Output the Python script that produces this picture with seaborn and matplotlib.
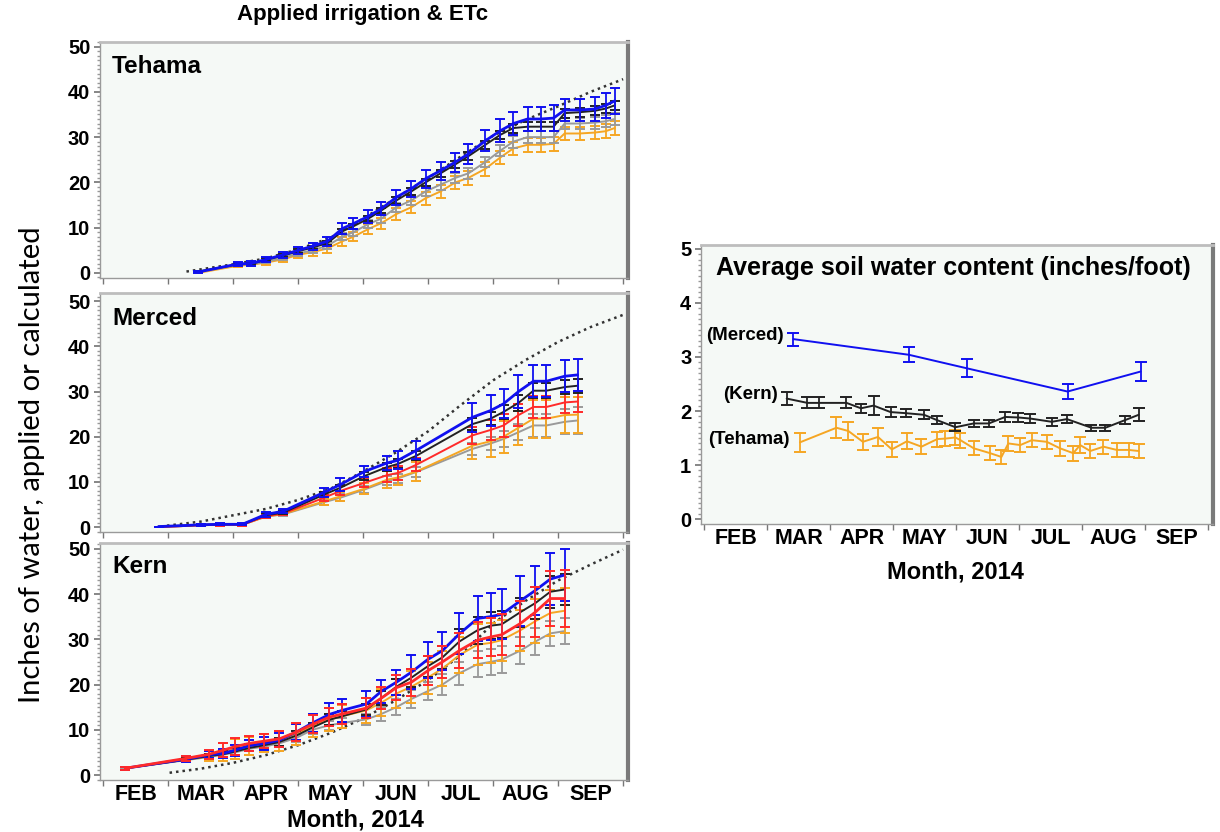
import numpy as np
import pandas as pd
import seaborn as sns
import matplotlib.pyplot as plt
from matplotlib.ticker import MultipleLocator, FixedLocator, NullFormatter

# x values are months counted from 1 Feb 2014 (0 = 1 Feb, 1 = 1 Mar, ...)
month_names = ['FEB', 'MAR', 'APR', 'MAY', 'JUN', 'JUL', 'AUG', 'SEP']

# ---- Tehama: cumulative applied irrigation (inches)
teh_x = [1.46, 2.08, 2.28, 2.51, 2.77, 3.00, 3.22, 3.45, 3.68, 3.85, 4.08, 4.28, 4.51, 4.74, 4.96,
         5.19, 5.42, 5.62, 5.88, 6.11, 6.31, 6.53, 6.73, 6.93, 7.10, 7.33, 7.56, 7.73, 7.87]
teh_blue = [0.2, 2.0, 2.1, 3.0, 4.0, 5.0, 5.9, 7.0, 9.8, 10.9, 12.5, 14.2, 16.7, 18.6, 20.8,
            22.6, 24.5, 26.3, 29.2, 31.4, 33.0, 34.0, 34.0, 34.2, 36.0, 36.0, 36.2, 37.0, 38.0]
teh_black = [0.3, 1.9, 2.0, 2.9, 3.8, 4.8, 5.6, 6.6, 9.2, 10.3, 12.0, 13.8, 16.0, 18.0, 20.0,
             22.0, 24.0, 25.8, 28.3, 30.5, 32.0, 32.3, 32.3, 32.3, 35.3, 35.5, 35.8, 36.3, 37.0]
teh_gray = [0.2, 1.8, 1.9, 2.5, 3.3, 4.3, 5.0, 6.0, 8.0, 9.0, 10.8, 12.0, 14.5, 16.0, 18.0,
            19.5, 21.0, 22.0, 24.5, 27.0, 29.0, 30.0, 30.0, 30.0, 33.0, 33.0, 33.2, 33.5, 34.0]
teh_orange = [0.0, 1.6, 1.8, 2.3, 3.0, 4.0, 4.6, 5.4, 7.0, 8.0, 9.7, 11.0, 13.0, 14.5, 16.5,
              18.0, 20.0, 21.0, 23.0, 25.5, 27.5, 28.3, 28.3, 28.5, 30.8, 30.8, 31.0, 31.3, 32.0]
teh_blue_err = [0.2, 0.5, 0.5, 0.6, 0.7, 0.8, 0.8, 1.0, 1.2, 1.3, 1.4, 1.5, 1.6, 1.8, 2.0,
                2.0, 2.1, 2.2, 2.3, 2.5, 2.5, 2.6, 2.6, 2.8, 2.5, 2.5, 2.6, 2.7, 2.8]
teh_black_err = [0.1, 0.2, 0.2, 0.3, 0.3, 0.4, 0.4, 0.5, 0.5, 0.6, 0.6, 0.6, 0.7, 0.7, 0.8,
                 0.8, 0.8, 0.9, 0.9, 0.9, 1.0, 1.0, 1.0, 1.0, 1.0, 1.0, 1.0, 1.0, 1.0]
teh_gray_err = [0.1, 0.3, 0.3, 0.4, 0.5, 0.6, 0.6, 0.7, 0.8, 0.8, 0.9, 0.9, 1.0, 1.0, 1.0,
                1.1, 1.1, 1.2, 1.2, 1.2, 1.3, 1.3, 1.3, 1.3, 1.3, 1.3, 1.3, 1.3, 1.3]
teh_orange_err = [0.1, 0.3, 0.3, 0.5, 0.6, 0.7, 0.8, 0.9, 1.0, 1.0, 1.1, 1.2, 1.3, 1.3, 1.4,
                  1.4, 1.4, 1.5, 1.5, 1.5, 1.5, 1.5, 1.5, 1.5, 1.5, 1.5, 1.5, 1.6, 1.6]
teh_etc_x = [1.28, 2.0, 2.5, 3.0, 3.5, 4.0, 4.5, 5.0, 5.5, 6.0, 6.5, 7.0, 7.5, 8.0]
teh_etc = [0.3, 1.9, 3.2, 5.2, 7.8, 12.0, 16.5, 21.0, 25.7, 30.3, 33.8, 36.8, 40.0, 42.8]

# ---- Merced
mer_x = [0.85, 1.2, 1.5, 1.8, 2.14, 2.5, 2.77, 3.4, 3.65, 4.02, 4.37, 4.54, 4.82,
         5.68, 5.96, 6.16, 6.39, 6.62, 6.82, 7.1, 7.3]
mer_blue = [0.1, 0.3, 0.5, 0.6, 0.6, 2.8, 3.5, 7.7, 9.4, 12.3, 14.2, 14.8, 17.0,
            24.3, 25.8, 27.3, 30.0, 32.3, 32.3, 33.4, 33.7]
mer_black = [0.1, 0.3, 0.5, 0.6, 0.6, 2.6, 3.2, 7.2, 8.7, 11.3, 13.3, 14.0, 15.8,
             22.8, 24.0, 25.5, 27.5, 30.2, 30.2, 31.0, 31.3]
mer_red = [0.0, 0.2, 0.4, 0.5, 0.5, 2.4, 3.0, 6.5, 8.0, 9.8, 11.5, 12.0, 13.8,
           20.3, 21.5, 22.5, 24.8, 26.6, 26.6, 27.6, 27.8]
mer_orange = [0.0, 0.2, 0.4, 0.5, 0.5, 2.3, 2.9, 5.7, 6.8, 8.5, 10.5, 11.0, 12.3,
              18.0, 19.0, 20.0, 22.0, 24.0, 24.0, 24.8, 24.9]
mer_gray = [0.0, 0.2, 0.4, 0.5, 0.5, 2.3, 2.8, 5.5, 6.5, 8.3, 10.2, 10.8, 12.2,
            17.3, 18.5, 19.5, 21.0, 22.5, 22.5, 23.3, 23.6]
mer_blue_err = [0, 0, 0.2, 0.2, 0.2, 0.5, 0.5, 1.0, 1.4, 1.3, 1.6, 2.0, 2.0,
                3.2, 3.5, 3.2, 3.6, 3.5, 3.5, 3.5, 3.5]
mer_black_err = [0, 0, 0.1, 0.1, 0.1, 0.4, 0.4, 0.6, 0.7, 0.8, 0.8, 1.0, 1.0,
                 1.3, 1.5, 1.5, 1.8, 1.6, 1.6, 1.6, 1.6]
mer_red_err = [0, 0, 0.2, 0.2, 0.2, 0.4, 0.4, 0.7, 1.0, 1.0, 1.5, 1.5, 1.5,
               1.8, 2.2, 2.5, 2.5, 2.4, 2.4, 2.4, 2.4]
mer_orange_err = [0, 0, 0.1, 0.1, 0.1, 0.3, 0.3, 0.8, 1.0, 1.2, 1.8, 1.8, 2.0,
                  3.0, 3.5, 3.5, 3.8, 4.2, 4.2, 4.0, 4.0]
mer_gray_err = [0, 0, 0.1, 0.1, 0.1, 0.3, 0.3, 0.6, 0.8, 0.8, 1.0, 1.0, 1.2,
                1.4, 1.5, 1.8, 1.8, 2.5, 2.5, 2.8, 3.0]
mer_etc_x = [0.98, 1.5, 2.0, 2.5, 3.0, 3.5, 4.0, 4.5, 5.0, 5.5, 6.0, 6.5, 7.0, 7.5, 8.0]
mer_etc = [0.3, 1.2, 2.6, 4.0, 6.0, 8.5, 12.3, 16.5, 21.2, 27.0, 32.5, 37.0, 41.0, 44.3, 47.0]

# ---- Kern
kern_x = [0.34, 1.28, 1.63, 1.85, 2.03, 2.25, 2.48, 2.71, 2.97, 3.22, 3.48, 3.68, 4.05,
          4.28, 4.51, 4.74, 4.99, 5.22, 5.48, 5.76, 5.96, 6.13, 6.42, 6.65, 6.88, 7.10]
kern_blue = [1.5, 3.5, 4.5, 4.8, 5.5, 6.5, 7.0, 7.7, 9.5, 11.5, 13.4, 14.3, 15.7,
             18.5, 20.5, 22.7, 25.5, 27.5, 31.2, 34.6, 35.0, 35.5, 38.5, 40.8, 43.3, 44.2]
kern_black = [1.5, 3.4, 4.2, 4.6, 5.2, 6.0, 6.6, 7.3, 8.7, 10.5, 12.2, 13.0, 14.5,
              17.0, 19.5, 21.5, 24.0, 26.0, 29.5, 32.0, 33.0, 33.3, 36.0, 38.0, 40.5, 41.0]
kern_red = [1.5, 3.7, 4.6, 5.5, 6.3, 7.0, 7.5, 8.0, 9.5, 11.2, 12.8, 13.5, 14.8,
            17.0, 19.3, 20.5, 23.0, 25.0, 27.5, 29.8, 30.5, 31.0, 33.5, 36.0, 39.0, 39.0]
kern_orange = [1.5, 3.4, 4.2, 5.0, 5.8, 6.5, 7.0, 7.5, 9.0, 10.8, 12.3, 13.0, 14.3,
               16.0, 18.0, 19.5, 21.5, 23.5, 26.5, 28.8, 29.2, 29.8, 32.0, 34.0, 35.8, 36.3]
kern_gray = [1.5, 3.3, 4.0, 4.5, 5.0, 5.8, 6.3, 7.0, 8.2, 10.0, 11.0, 11.5, 12.3,
             13.5, 15.0, 16.8, 18.5, 20.0, 22.5, 24.5, 25.0, 25.5, 27.5, 29.5, 31.3, 31.8]
kern_blue_err = [0.3, 0.6, 0.8, 1.0, 1.2, 1.3, 1.5, 1.6, 1.8, 2.0, 2.5, 2.5, 2.8,
                 2.6, 2.8, 3.8, 4.0, 4.2, 4.5, 5.0, 5.2, 5.5, 5.5, 5.5, 5.7, 5.8]
kern_black_err = [0.3, 0.4, 0.5, 0.6, 0.7, 0.8, 0.8, 0.9, 1.0, 1.0, 1.2, 1.2, 1.3,
                  1.5, 1.8, 2.0, 2.3, 2.5, 2.8, 3.0, 3.0, 3.0, 3.2, 3.5, 3.5, 3.5]
kern_red_err = [0.3, 0.5, 1.0, 1.5, 1.8, 1.6, 1.5, 1.8, 2.0, 2.0, 2.0, 2.2, 2.3,
                2.5, 2.8, 3.0, 3.2, 3.5, 3.8, 4.0, 4.2, 4.5, 5.0, 5.5, 6.0, 6.3]
kern_orange_err = [0.3, 0.5, 1.2, 2.0, 2.2, 2.0, 2.0, 2.2, 2.3, 2.5, 2.5, 2.5, 2.8,
                   3.0, 3.2, 3.5, 3.5, 3.8, 4.0, 4.5, 4.5, 4.5, 4.5, 4.8, 5.0, 5.0]
kern_gray_err = [0.2, 0.3, 0.4, 0.5, 0.5, 0.6, 0.7, 0.8, 0.9, 1.0, 1.0, 1.0, 1.2,
                 1.5, 1.8, 2.0, 2.0, 2.3, 2.5, 2.8, 2.8, 3.0, 3.0, 3.0, 2.8, 2.8]
kern_etc_x = [1.02, 1.5, 2.0, 2.5, 3.0, 3.5, 4.0, 4.5, 5.0, 5.5, 6.0, 6.5, 7.0, 7.5, 8.0]
kern_etc = [0.5, 1.4, 2.7, 4.4, 6.6, 9.3, 12.5, 16.5, 21.0, 26.5, 33.5, 38.5, 43.0, 46.5, 49.8]

# ---- Average soil water content (inches/foot)
swc_mer_x = [1.415, 3.25, 4.17, 5.77, 6.93]
swc_mer = [3.33, 3.04, 2.79, 2.36, 2.73]
swc_mer_err = [0.12, 0.14, 0.17, 0.135, 0.17]
swc_kern_x = [1.31, 1.64, 1.82, 2.26, 2.49, 2.69, 2.96, 3.2, 3.49, 3.7, 3.99,
              4.28, 4.52, 4.78, 4.99, 5.18, 5.52, 5.76, 6.15, 6.37, 6.68, 6.9]
swc_kern = [2.23, 2.15, 2.15, 2.15, 2.05, 2.10, 1.98, 1.96, 1.93, 1.83, 1.70,
            1.77, 1.77, 1.89, 1.88, 1.86, 1.80, 1.85, 1.69, 1.69, 1.83, 1.93]
swc_kern_err = [0.12, 0.1, 0.1, 0.1, 0.08, 0.17, 0.1, 0.08, 0.08, 0.07, 0.07,
                0.07, 0.07, 0.1, 0.08, 0.08, 0.07, 0.07, 0.06, 0.06, 0.07, 0.12]
swc_teh_x = [1.52, 2.1, 2.29, 2.52, 2.76, 2.98, 3.22, 3.45, 3.70, 3.83, 3.99, 4.07, 4.28, 4.54,
             4.72, 4.83, 5.02, 5.2, 5.44, 5.65, 5.86, 5.97, 6.13, 6.34, 6.55, 6.74, 6.9]
swc_teh = [1.42, 1.69, 1.63, 1.43, 1.52, 1.29, 1.44, 1.34, 1.48, 1.49, 1.51, 1.46, 1.31, 1.22,
           1.15, 1.40, 1.37, 1.46, 1.43, 1.31, 1.22, 1.37, 1.26, 1.34, 1.28, 1.28, 1.26]
swc_teh_err = [0.17, 0.19, 0.17, 0.15, 0.16, 0.14, 0.15, 0.14, 0.14, 0.14, 0.14, 0.14, 0.13, 0.13,
               0.13, 0.14, 0.13, 0.13, 0.13, 0.14, 0.14, 0.14, 0.13, 0.13, 0.13, 0.13, 0.13]

BLUE = '#1010f0'
BLACK = '#222222'
RED = '#ff2a2a'
ORANGE = '#f5a623'
GRAY = '#9a9a9a'
BG = '#f5f9f6'

sns.set_theme(style='ticks')
plt.rcParams['font.family'] = ['Liberation Sans', 'DejaVu Sans']
plt.rcParams['text.color'] = 'black'
plt.rcParams['xtick.labelcolor'] = 'black'
plt.rcParams['ytick.labelcolor'] = 'black'

fig = plt.figure(figsize=(12.2, 8.32), dpi=100)


def series(ax, x, y, err, color, lw=1.4, cap=3.5):
    sns.lineplot(x=x, y=y, color=color, lw=lw, ax=ax, errorbar=None, sort=False)
    ax.errorbar(x, y, yerr=err, fmt='none', ecolor=color, elinewidth=1.3,
                capsize=cap, capthick=1.4)


def etc_line(ax, x, y):
    sns.lineplot(x=x, y=y, color='#333333', lw=1.8, ax=ax, errorbar=None,
                 linestyle=(0, (1, 1.6)))


def style_axes(ax, yminor, show_months):
    ax.set_facecolor(BG)
    ax.set_xlim(-0.05, 8.08)
    ax.xaxis.set_major_locator(FixedLocator(range(9)))
    ax.xaxis.set_major_formatter(NullFormatter())
    ax.xaxis.set_minor_locator(FixedLocator([i + 0.5 for i in range(8)]))
    if show_months:
        ax.set_xticklabels(month_names, minor=True)
    else:
        ax.xaxis.set_minor_formatter(NullFormatter())
    ax.tick_params(axis='x', which='major', length=4, color='#777777', width=1)
    ax.tick_params(axis='x', which='minor', length=0, labelsize=15.5, pad=3)
    ax.yaxis.set_minor_locator(MultipleLocator(yminor))
    ax.tick_params(axis='y', which='major', length=4, color='#777777', labelsize=14.5, pad=3)
    ax.tick_params(axis='y', which='minor', length=2, color='#999999')
    for lab in ax.get_xticklabels(minor=True) + ax.get_yticklabels():
        lab.set_fontweight('bold')
    for side in ['left', 'bottom']:
        ax.spines[side].set_color('#9a9a9a')
        ax.spines[side].set_linewidth(1.0)
    ax.spines['top'].set_color('#bdbdbd')
    ax.spines['top'].set_linewidth(2.0)
    ax.spines['right'].set_color('#7a7a7a')
    ax.spines['right'].set_linewidth(3.0)
    ax.set_xlabel('')
    ax.set_ylabel('')


# panel positions [left, bottom, width, height] in figure fraction
ax_teh = fig.add_axes([0.082, 0.666, 0.433, 0.284])
ax_mer = fig.add_axes([0.082, 0.3606, 0.433, 0.287])
ax_kern = fig.add_axes([0.082, 0.0625, 0.433, 0.285])
ax_swc = fig.add_axes([0.5746, 0.3702, 0.4197, 0.3353])

# Tehama
etc_line(ax_teh, teh_etc_x, teh_etc)
series(ax_teh, teh_x, teh_orange, teh_orange_err, ORANGE)
series(ax_teh, teh_x, teh_gray, teh_gray_err, GRAY)
series(ax_teh, teh_x, teh_black, teh_black_err, BLACK)
series(ax_teh, teh_x, teh_blue, teh_blue_err, BLUE, lw=2.0)
ax_teh.set_ylim(-1.1, 51.1)
ax_teh.set_yticks([0, 10, 20, 30, 40, 50])
style_axes(ax_teh, 1, False)
ax_teh.text(0.023, 0.895, 'Tehama', transform=ax_teh.transAxes, fontsize=17.5,
            fontweight='bold', va='center', ha='left')

# Merced
etc_line(ax_mer, mer_etc_x, mer_etc)
series(ax_mer, mer_x, mer_gray, mer_gray_err, GRAY)
series(ax_mer, mer_x, mer_orange, mer_orange_err, ORANGE)
series(ax_mer, mer_x, mer_red, mer_red_err, RED)
series(ax_mer, mer_x, mer_black, mer_black_err, BLACK)
series(ax_mer, mer_x, mer_blue, mer_blue_err, BLUE, lw=2.0)
ax_mer.set_ylim(-1.1, 51.8)
ax_mer.set_yticks([0, 10, 20, 30, 40, 50])
style_axes(ax_mer, 1, False)
ax_mer.text(0.023, 0.895, 'Merced', transform=ax_mer.transAxes, fontsize=17.5,
            fontweight='bold', va='center', ha='left')

# Kern
etc_line(ax_kern, kern_etc_x, kern_etc)
series(ax_kern, kern_x, kern_gray, kern_gray_err, GRAY)
series(ax_kern, kern_x, kern_orange, kern_orange_err, ORANGE)
series(ax_kern, kern_x, kern_black, kern_black_err, BLACK)
series(ax_kern, kern_x, kern_blue, kern_blue_err, BLUE, lw=2.0)
series(ax_kern, kern_x, kern_red, kern_red_err, RED, lw=2.0)
ax_kern.set_ylim(-1.1, 51.3)
ax_kern.set_yticks([0, 10, 20, 30, 40, 50])
style_axes(ax_kern, 1, True)
ax_kern.text(0.023, 0.90, 'Kern', transform=ax_kern.transAxes, fontsize=17.5,
             fontweight='bold', va='center', ha='left')

# Soil water content
series(ax_swc, swc_teh_x, swc_teh, swc_teh_err, ORANGE, lw=1.4, cap=4)
series(ax_swc, swc_kern_x, swc_kern, swc_kern_err, BLACK, lw=1.4, cap=4)
series(ax_swc, swc_mer_x, swc_mer, swc_mer_err, BLUE, lw=1.4, cap=4)
ax_swc.set_ylim(-0.09, 5.07)
ax_swc.set_yticks([0, 1, 2, 3, 4, 5])
style_axes(ax_swc, 0.1, True)
ax_swc.text(0.029, 0.918, 'Average soil water content (inches/foot)', transform=ax_swc.transAxes,
            fontsize=18, fontweight='bold', va='center', ha='left')
ax_swc.text(1.27, 3.39, '(Merced)', fontsize=13.5, fontweight='bold', ha='right', va='center')
ax_swc.text(1.17, 2.30, '(Kern)', fontsize=13.5, fontweight='bold', ha='right', va='center')
ax_swc.text(1.36, 1.48, '(Tehama)', fontsize=13.5, fontweight='bold', ha='right', va='center')

# figure-level text
fig.text(0.2975, 0.982, 'Applied irrigation & ETc', fontsize=16, fontweight='bold',
         ha='center', va='center')
fig.text(0.291, 0.0144, 'Month, 2014', fontsize=17, fontweight='bold', ha='center', va='center')
fig.text(0.783, 0.3125, 'Month, 2014', fontsize=17, fontweight='bold', ha='center', va='center')
fig.text(0.026, 0.441, 'Inches of water, applied or calculated', fontsize=21, rotation=90,
         ha='center', va='center', family=['Lato', 'DejaVu Sans'])

fig.savefig('out.png', dpi=100)
